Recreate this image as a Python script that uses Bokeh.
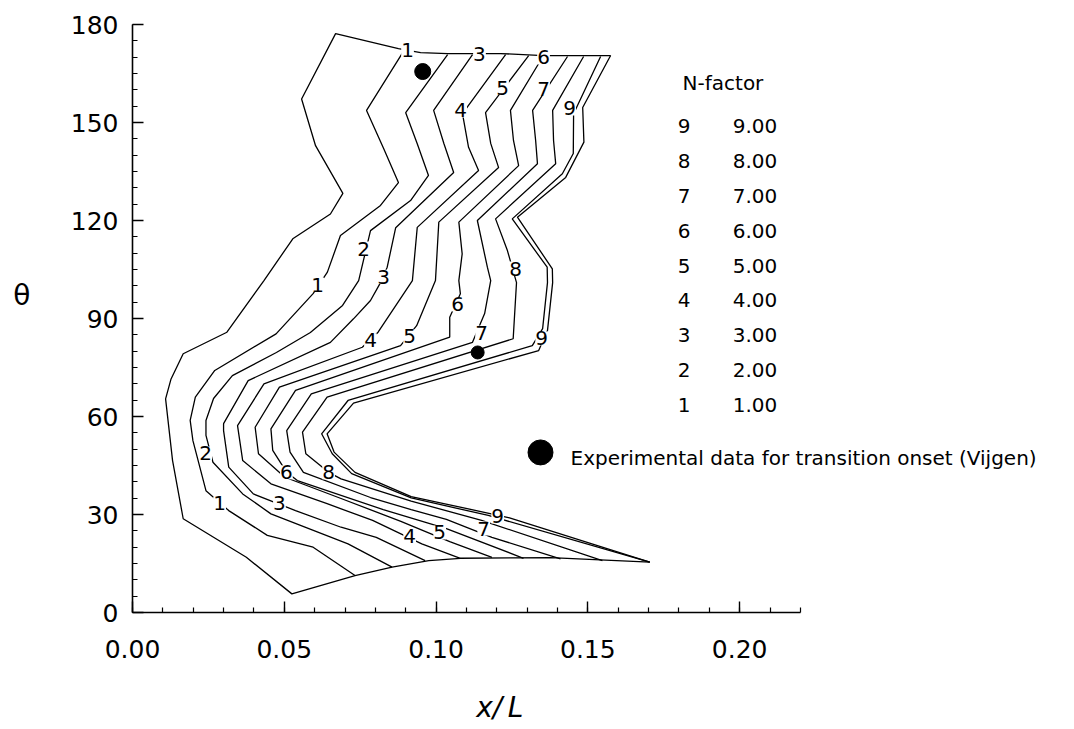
from bokeh.plotting import figure
from bokeh.models import (Range1d, SingleIntervalTicker, FixedTicker, PrintfTickFormatter,
                          Label, LabelSet, ColumnDataSource, LinearAxis)
from bokeh.core.properties import value
from bokeh.embed import file_html
from bokeh.resources import INLINE

FONT = "DejaVu Sans"

# ---------------- data (x/L, theta in degrees) ----------------
N1_x = [0.0890, 0.0771, 0.0828, 0.0876, 0.0817, 0.0685, 0.0642, 0.0595, 0.0473, 0.0271,
        0.0207, 0.0190, 0.0199, 0.0242, 0.0317, 0.0444, 0.0595, 0.0733]
N1_t = [171.4, 153.7, 141.9, 131.6, 124.6, 115.4, 104.2, 97.6, 85.3, 74.1,
        65.9, 58.8, 52.6, 37.3, 31.2, 23.6, 20.0, 11.3]

N2_x = [0.1038, 0.0900, 0.0938, 0.0975, 0.0916, 0.0784, 0.0745, 0.0692, 0.0586, 0.0474,
        0.0329, 0.0267, 0.0242, 0.0242, 0.0265, 0.0363, 0.0456, 0.0583, 0.0710, 0.0855]
N2_t = [170.8, 153.0, 143.5, 133.8, 126.1, 116.9, 101.6, 94.0, 85.7, 79.6,
        72.5, 65.5, 58.8, 54.2, 46.0, 36.3, 30.2, 25.6, 21.0, 13.9]

N3_x = [0.1120, 0.0992, 0.1026, 0.1058, 0.0867, 0.0839, 0.0817, 0.0784, 0.0728, 0.0652,
        0.0381, 0.0300, 0.0300, 0.0317, 0.0398, 0.0537, 0.0687, 0.0803, 0.0964]
N3_t = [170.8, 153.7, 143.5, 134.7, 117.8, 105.7, 101.0, 95.5, 89.9, 82.7,
        71.0, 57.8, 55.7, 44.5, 36.3, 31.2, 26.1, 23.0, 15.9]

N4_x = [0.1229, 0.1087, 0.1107, 0.1140, 0.0938, 0.0922, 0.0809, 0.0757, 0.0433, 0.0346,
        0.0363, 0.0456, 0.0641, 0.0791, 0.0953, 0.1080]
N4_t = [170.8, 152.7, 142.4, 135.3, 117.9, 101.6, 85.8, 81.2, 70.0, 57.2,
        46.5, 39.4, 33.3, 28.2, 21.0, 16.6]

N5_x = [0.1305, 0.1163, 0.1180, 0.1206, 0.1009, 0.0998, 0.0936, 0.0883, 0.0484, 0.0404,
        0.0415, 0.0502, 0.0687, 0.0884, 0.1045, 0.1184]
N5_t = [170.5, 153.0, 143.6, 136.2, 119.5, 101.6, 87.8, 81.7, 69.0, 56.7,
        48.6, 41.4, 34.9, 27.9, 21.7, 16.9]

N6_x = [0.1354, 0.1245, 0.1255, 0.1272, 0.1075, 0.1086, 0.1075, 0.1080, 0.1045, 0.1045,
        0.0537, 0.0456, 0.0462, 0.0508, 0.0543, 0.0826, 0.1034, 0.1288]
N6_t = [170.5, 153.7, 144.5, 136.8, 119.5, 109.8, 101.6, 97.6, 90.4, 84.3,
        68.0, 56.2, 49.6, 42.9, 40.4, 31.5, 25.7, 16.6]

N7_x = [0.1433, 0.1318, 0.1328, 0.1334, 0.1136, 0.1169, 0.1180, 0.1160, 0.1120, 0.0589,
        0.0508, 0.0519, 0.0563, 0.0784, 0.0918, 0.1034, 0.1184, 0.1410]
N7_t = [170.2, 153.7, 144.5, 137.4, 120.0, 105.7, 101.6, 91.5, 82.7, 66.9,
        55.7, 49.1, 42.9, 35.2, 31.5, 28.5, 23.0, 16.4]

N8_x = [0.1486, 0.1384, 0.1387, 0.1394, 0.1196, 0.1235, 0.1265, 0.1254, 0.0641, 0.0560,
        0.0571, 0.0646, 0.0687, 0.0918, 0.1150, 0.1548]
N8_t = [170.2, 153.7, 144.5, 137.4, 120.5, 110.8, 101.0, 83.8, 65.9, 55.2,
        48.6, 42.9, 40.9, 34.1, 28.2, 15.9]

N9_x = [0.1542, 0.1453, 0.1452, 0.1416, 0.1251, 0.1366, 0.1367, 0.1351, 0.1317, 0.0710,
        0.0623, 0.0658, 0.0722, 0.0918, 0.1172, 0.1704]
N9_t = [170.2, 152.7, 140.5, 134.3, 120.5, 105.7, 101.0, 86.9, 81.7, 64.9,
        54.7, 48.6, 42.5, 35.1, 29.7, 15.4]

# outer edge of the computed region (top, left side, bottom)
EDGE_x = [0.1575, 0.1354, 0.1213, 0.1038, 0.0949, 0.0876, 0.0669, 0.0557, 0.0603, 0.0693,
          0.0652, 0.0528, 0.0433, 0.0311, 0.0167, 0.0127, 0.0109, 0.0132, 0.0167, 0.0375,
          0.0525, 0.0733, 0.0855, 0.0976, 0.1080, 0.1377, 0.1704]
EDGE_t = [170.5, 170.5, 171.1, 171.1, 171.4, 172.6, 177.2, 157.2, 142.9, 128.3,
          122.0, 114.4, 101.6, 85.8, 79.2, 71.5, 65.4, 46.5, 28.7, 16.9,
          5.7, 11.3, 13.9, 15.9, 16.6, 16.8, 15.4]
# right edge of the computed region
EDGE_R_x = [0.1575, 0.1483, 0.1487, 0.1427, 0.1268, 0.1383, 0.1384, 0.1367, 0.1338, 0.0728,
            0.0641, 0.0664, 0.0733, 0.0918, 0.1242, 0.1704]
EDGE_R_t = [170.5, 154.6, 144.0, 133.2, 121.0, 105.2, 101.0, 86.3, 80.2, 64.1,
            54.7, 49.1, 42.9, 35.5, 29.0, 15.4]

# in-line contour labels
LAB_text = ["1", "3", "6", "5", "7", "4", "9",
            "2", "1", "3", "8", "6", "4", "5", "7", "9",
            "2", "1", "6", "8", "3", "4", "5", "7", "9"]
LAB_x = [0.0906, 0.1143, 0.1354, 0.1219, 0.1354, 0.1081, 0.1440,
         0.0761, 0.0610, 0.0827, 0.1262, 0.1071, 0.0784, 0.0913, 0.1150, 0.1348,
         0.0241, 0.0287, 0.0507, 0.0646, 0.0484, 0.0913, 0.1012, 0.1157, 0.1203]
LAB_t = [172.3, 171.1, 169.9, 160.7, 160.4, 153.7, 154.3,
         111.4, 100.4, 102.8, 105.3, 94.3, 83.3, 84.5, 85.7, 83.9,
         48.7, 33.4, 42.9, 42.9, 33.4, 23.3, 24.5, 25.7, 29.4]

# experimental transition onset (Vijgen)
EXP_x = [0.0956, 0.1137]
EXP_t = [165.6, 79.6]

# N-factor levels
LEVELS = [9, 8, 7, 6, 5, 4, 3, 2, 1]
LEVEL_VALUES = [9.0, 8.0, 7.0, 6.0, 5.0, 4.0, 3.0, 2.0, 1.0]

CONTOURS = [(N1_x, N1_t), (N2_x, N2_t), (N3_x, N3_t), (N4_x, N4_t), (N5_x, N5_t),
            (N6_x, N6_t), (N7_x, N7_t), (N8_x, N8_t), (N9_x, N9_t)]

# ---------------- figure ----------------
X_AXIS_END = 0.22
X_VIEW_END = 0.308     # frame extends right so the key text stays inside it

p = figure(frame_width=935, frame_height=588,
           x_range=Range1d(0, X_VIEW_END), y_range=Range1d(0, 180),
           output_backend="svg", toolbar_location=None,
           min_border_left=132, min_border_top=24,
           min_border_right=4, min_border_bottom=108)
p.outline_line_color = None
p.grid.visible = False
p.background_fill_color = "white"
p.border_fill_color = "white"

p.xaxis.ticker = SingleIntervalTicker(interval=0.05, num_minor_ticks=5)
p.yaxis.ticker = SingleIntervalTicker(interval=30, num_minor_ticks=6)
p.xaxis.formatter = PrintfTickFormatter(format="%.2f")
p.yaxis.formatter = PrintfTickFormatter(format="%d")
p.xaxis.bounds = (0, X_AXIS_END)

for ax in (p.xaxis[0], p.yaxis[0]):
    ax.axis_line_color = "black"
    ax.axis_line_width = 1.6
    ax.major_tick_in = 11
    ax.major_tick_out = 0
    ax.minor_tick_in = 5
    ax.minor_tick_out = 0
    ax.major_tick_line_width = 1.4
    ax.minor_tick_line_width = 1.2
    ax.major_tick_line_color = "black"
    ax.minor_tick_line_color = "black"
    ax.major_label_text_font = FONT
    ax.major_label_text_font_size = "25px"
    ax.major_label_text_color = "black"
p.xaxis[0].major_label_standoff = 27
p.yaxis[0].major_label_standoff = 14

# axis titles drawn as single-tick, line-less axes (kept outside the frame)
p.extra_y_ranges = {"ttl": Range1d(0, 180)}
theta_ax = LinearAxis(y_range_name="ttl", ticker=FixedTicker(ticks=[97]),
                      major_label_overrides={97: "θ"})
p.extra_x_ranges = {"ttl": Range1d(0, 1000 * X_VIEW_END)}
xl_ax = LinearAxis(x_range_name="ttl", ticker=FixedTicker(ticks=[121]),
                   major_label_overrides={121: "x/\u2009L"})
for ax in (theta_ax, xl_ax):
    ax.axis_line_color = None
    ax.major_tick_line_color = None
    ax.minor_tick_line_color = None
    ax.major_label_text_font = FONT
    ax.major_label_text_color = "black"
theta_ax.major_label_text_font_size = "28px"
theta_ax.major_label_standoff = 31
xl_ax.major_label_text_font_size = "28px"
xl_ax.major_label_text_font_style = "italic"
xl_ax.major_label_standoff = 24
p.add_layout(theta_ax, "left")
p.add_layout(xl_ax, "below")

for xs, ts in CONTOURS:
    p.line(xs, ts, line_color="black", line_width=1.3)
p.line(EDGE_x, EDGE_t, line_color="black", line_width=1.3)
p.line(EDGE_R_x, EDGE_R_t, line_color="black", line_width=1.3)

lab_src = ColumnDataSource(dict(x=LAB_x, y=LAB_t, text=LAB_text))
p.add_layout(LabelSet(x="x", y="y", text="text", source=lab_src,
                      text_align="center", text_baseline="middle",
                      text_font=value(FONT), text_font_size=value("20px"),
                      text_color="black", background_fill_color="white"))

p.scatter([EXP_x[0]], [EXP_t[0]], size=16, color="black")
p.scatter([EXP_x[1]], [EXP_t[1]], size=13, color="black")

# key: marker + caption
p.scatter([0.1344], [49.0], size=25, color="black")
p.add_layout(Label(x=0.1443, y=47.3, text="Experimental data for transition onset (Vijgen)",
                   text_font=FONT, text_font_size="20px", text_baseline="middle",
                   text_color="black"))

# N-factor table
p.add_layout(Label(x=0.1812, y=162.1, text="N-factor", text_font=FONT,
                   text_font_size="20px", text_baseline="middle", text_color="black"))
row_top, row_step = 148.8, 10.65
rows_y = [row_top - i * row_step for i in range(len(LEVELS))]
tab_src = ColumnDataSource(dict(
    xl=[0.1796] * len(LEVELS), xv=[0.1977] * len(LEVELS), y=rows_y,
    lev=[str(v) for v in LEVELS], val=["%.2f" % v for v in LEVEL_VALUES]))
p.add_layout(LabelSet(x="xl", y="y", text="lev", source=tab_src, text_baseline="middle",
                      text_font=value(FONT), text_font_size=value("20px"), text_color="black"))
p.add_layout(LabelSet(x="xv", y="y", text="val", source=tab_src, text_baseline="middle",
                      text_font=value(FONT), text_font_size=value("20px"), text_color="black"))

open("out.html", "w").write(file_html(p, INLINE))
